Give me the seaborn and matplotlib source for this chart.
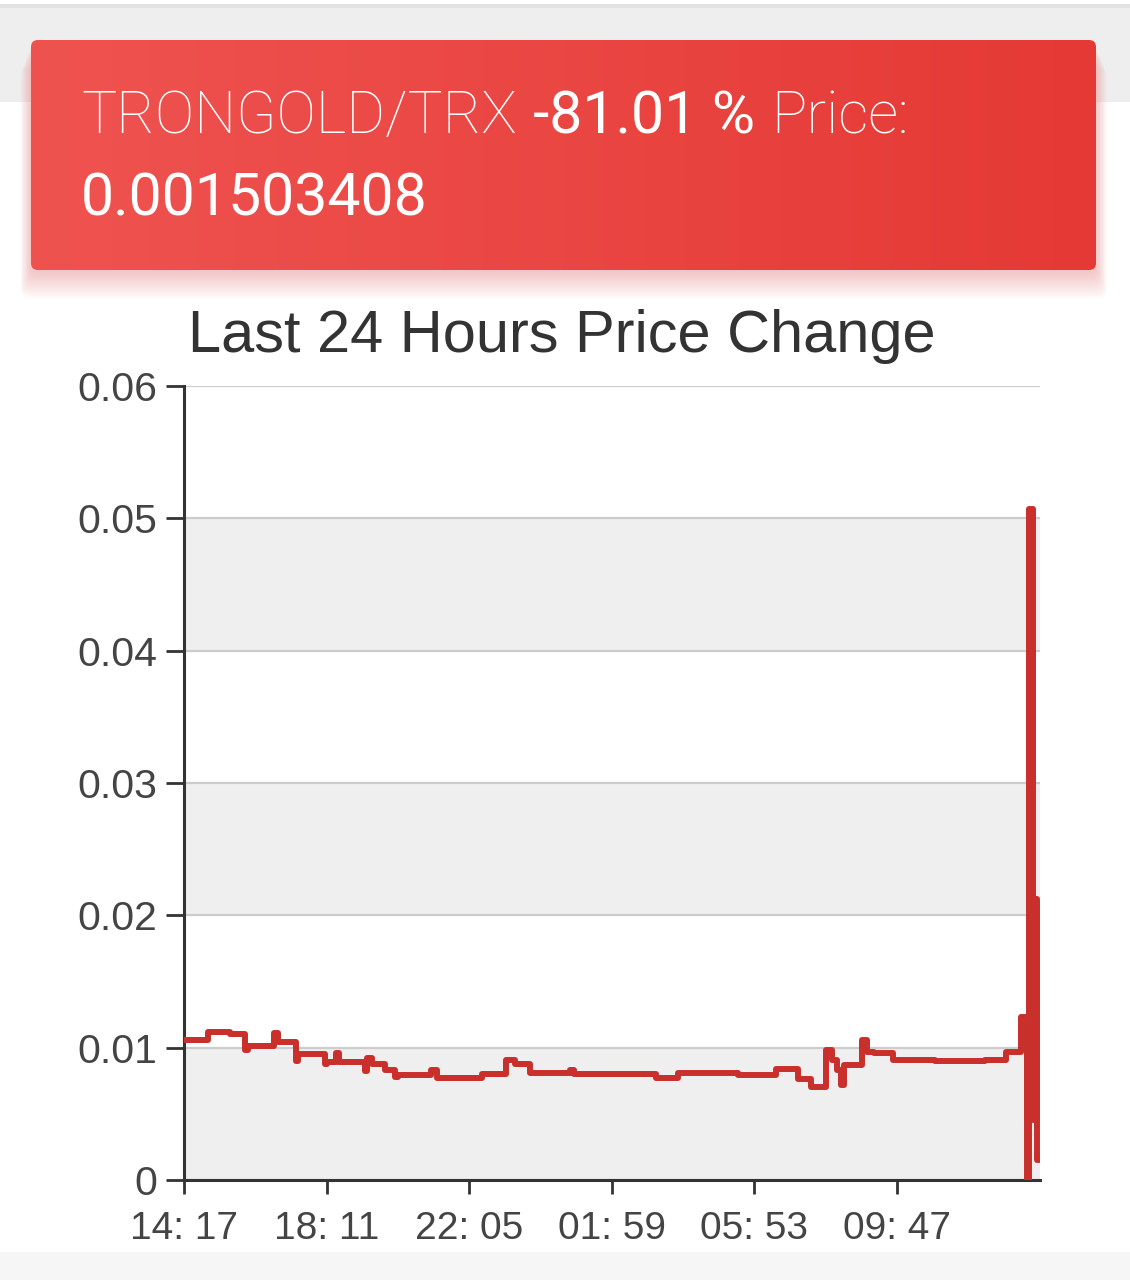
import numpy as np
import pandas as pd
import matplotlib
matplotlib.use("Agg")
import matplotlib.pyplot as plt
import seaborn as sns
from matplotlib.patches import FancyBboxPatch, Rectangle

# ---- data (minutes after 14:17, price in TRX) ----
minutes = [0, 39, 75, 100, 105, 148, 154, 184, 187, 231, 235, 249, 254, 297, 300,
           308, 330, 346, 351, 405, 415, 489, 528, 543, 568, 633, 640, 775, 811,
           909, 971, 1008, 1029, 1053, 1063, 1072, 1078, 1083, 1113, 1121, 1132,
           1163, 1232, 1314, 1350, 1373, 1383, 1387, 1393, 1396, 1400, 1403]
price = [0.0106, 0.0112, 0.0110, 0.0098, 0.0101, 0.0111, 0.0104, 0.0090, 0.0095,
         0.0088, 0.0089, 0.0096, 0.0089, 0.0082, 0.0092, 0.0088, 0.0083, 0.0078,
         0.0079, 0.0083, 0.0077, 0.0080, 0.0091, 0.0088, 0.0081, 0.0083, 0.0080,
         0.0077, 0.0081, 0.0079, 0.0084, 0.0076, 0.0070, 0.0098, 0.0091, 0.0083,
         0.0072, 0.0087, 0.0106, 0.0097, 0.0096, 0.0091, 0.0090, 0.0091, 0.0097,
         0.0123, 0.0, 0.0507, 0.0045, 0.0212, 0.0015, 0.0015]
x_tick_minutes = [0, 234, 468, 702, 936, 1170]
x_tick_labels = ["14: 17", "18: 11", "22: 05", "01: 59", "05: 53", "09: 47"]
y_ticks = [0, 0.01, 0.02, 0.03, 0.04, 0.05, 0.06]
y_tick_labels = ["0", "0.01", "0.02", "0.03", "0.04", "0.05", "0.06"]

pair = "TRONGOLD/TRX"
change = "-81.01 %"
price_label = "Price:"
last_price = "0.001503408"
title = "Last 24 Hours Price Change"

df = pd.DataFrame({"minute": minutes, "price": price})

sns.set_theme(style="ticks")
plt.rcParams['font.family'] = ['Liberation Sans', 'DejaVu Sans']

W, H = 1130, 1280
fig = plt.figure(figsize=(W / 100, H / 100), dpi=100)
fig.patch.set_facecolor("white")

# ---- background / header ----
bg = fig.add_axes([0, 0, 1, 1], zorder=0)
bg.axis("off")
bg.add_patch(Rectangle((0, 8), W, 94, color="#eeeeee", lw=0, zorder=1))
bg.add_patch(Rectangle((0, 4), W, 4, color="#e2e2e2", lw=0, zorder=1))
bg.add_patch(Rectangle((0, 1252), W, 28, color="#f6f6f6", lw=0, zorder=1))

# shadow
for i in range(14):
    off = 2 + i * 2.0
    bg.add_patch(FancyBboxPatch((31 - i * 0.8, 40 + off), 1065 + i * 1.6, 230,
                                boxstyle="round,pad=0,rounding_size=8",
                                fc=(0.93, 0.45, 0.45), ec="none", alpha=0.03, zorder=2))

box = FancyBboxPatch((31, 40), 1065, 230, boxstyle="round,pad=0,rounding_size=7",
                     fc="none", ec="none", zorder=3)
bg.add_patch(box)
left_c = np.array([239, 83, 80]) / 255
right_c = np.array([229, 57, 53]) / 255
t = np.linspace(0, 1, 256)[None, :, None]
grad = left_c[None, None, :] * (1 - t) + right_c[None, None, :] * t
im = bg.imshow(grad, extent=(31, 1096, 270, 40), aspect="auto", zorder=3,
               interpolation="bilinear")
im.set_clip_path(box)
bg.set_xlim(0, W)
bg.set_ylim(H, 0)

hdr = dict(color="white", fontsize=42.5, va="baseline", family=["Roboto", "DejaVu Sans"])
bg.text(81, 133, pair, fontweight="light", zorder=5, **hdr)
bg.text(533, 133, change, fontweight="normal", zorder=5, **hdr)
bg.text(771, 133, price_label, fontweight="light", zorder=5, **hdr)
bg.text(81, 215, last_price, fontweight="normal", zorder=5, **hdr)

fig.text(562 / W, 1 - 352 / H, title, ha="center", va="baseline",
         fontsize=42.8, color="#333333")

# ---- chart ----
ax = fig.add_axes([184 / W, 1 - 1180 / H, (1040 - 184) / W, (1180 - 386) / H], zorder=2)
ax.set_facecolor("white")
for i in range(0, 6, 2):
    ax.axhspan(y_ticks[i], y_ticks[i + 1], color="#efefef", lw=0, zorder=0)

sns.lineplot(data=df, x="minute", y="price", ax=ax, color="#c9302c", linewidth=4.3,
             drawstyle="steps-post", estimator=None, sort=False, zorder=3,
             solid_joinstyle="round", solid_capstyle="round")

ax.set_xlim(0, 1405)
ax.set_ylim(0, 0.06)
ax.set_xticks(x_tick_minutes)
ax.set_xticklabels(x_tick_labels)
ax.set_yticks(y_ticks)
ax.set_yticklabels(y_tick_labels)
ax.set_xlabel("")
ax.set_ylabel("")
ax.set_axisbelow(True)
ax.yaxis.grid(True, color="#cccccc", lw=1.6)
ax.xaxis.grid(False)
for s in ["top", "right"]:
    ax.spines[s].set_visible(False)
for s in ["left", "bottom"]:
    ax.spines[s].set_color("#333333")
    ax.spines[s].set_linewidth(2.2)
ax.tick_params(axis="y", length=13, width=2, color="#333333", pad=6,
               labelsize=29.5, labelcolor="#444444")
ax.tick_params(axis="x", length=10, width=2, color="#333333", pad=12,
               labelsize=28, labelcolor="#444444")

fig.savefig("out.png", dpi=100, facecolor="white")
